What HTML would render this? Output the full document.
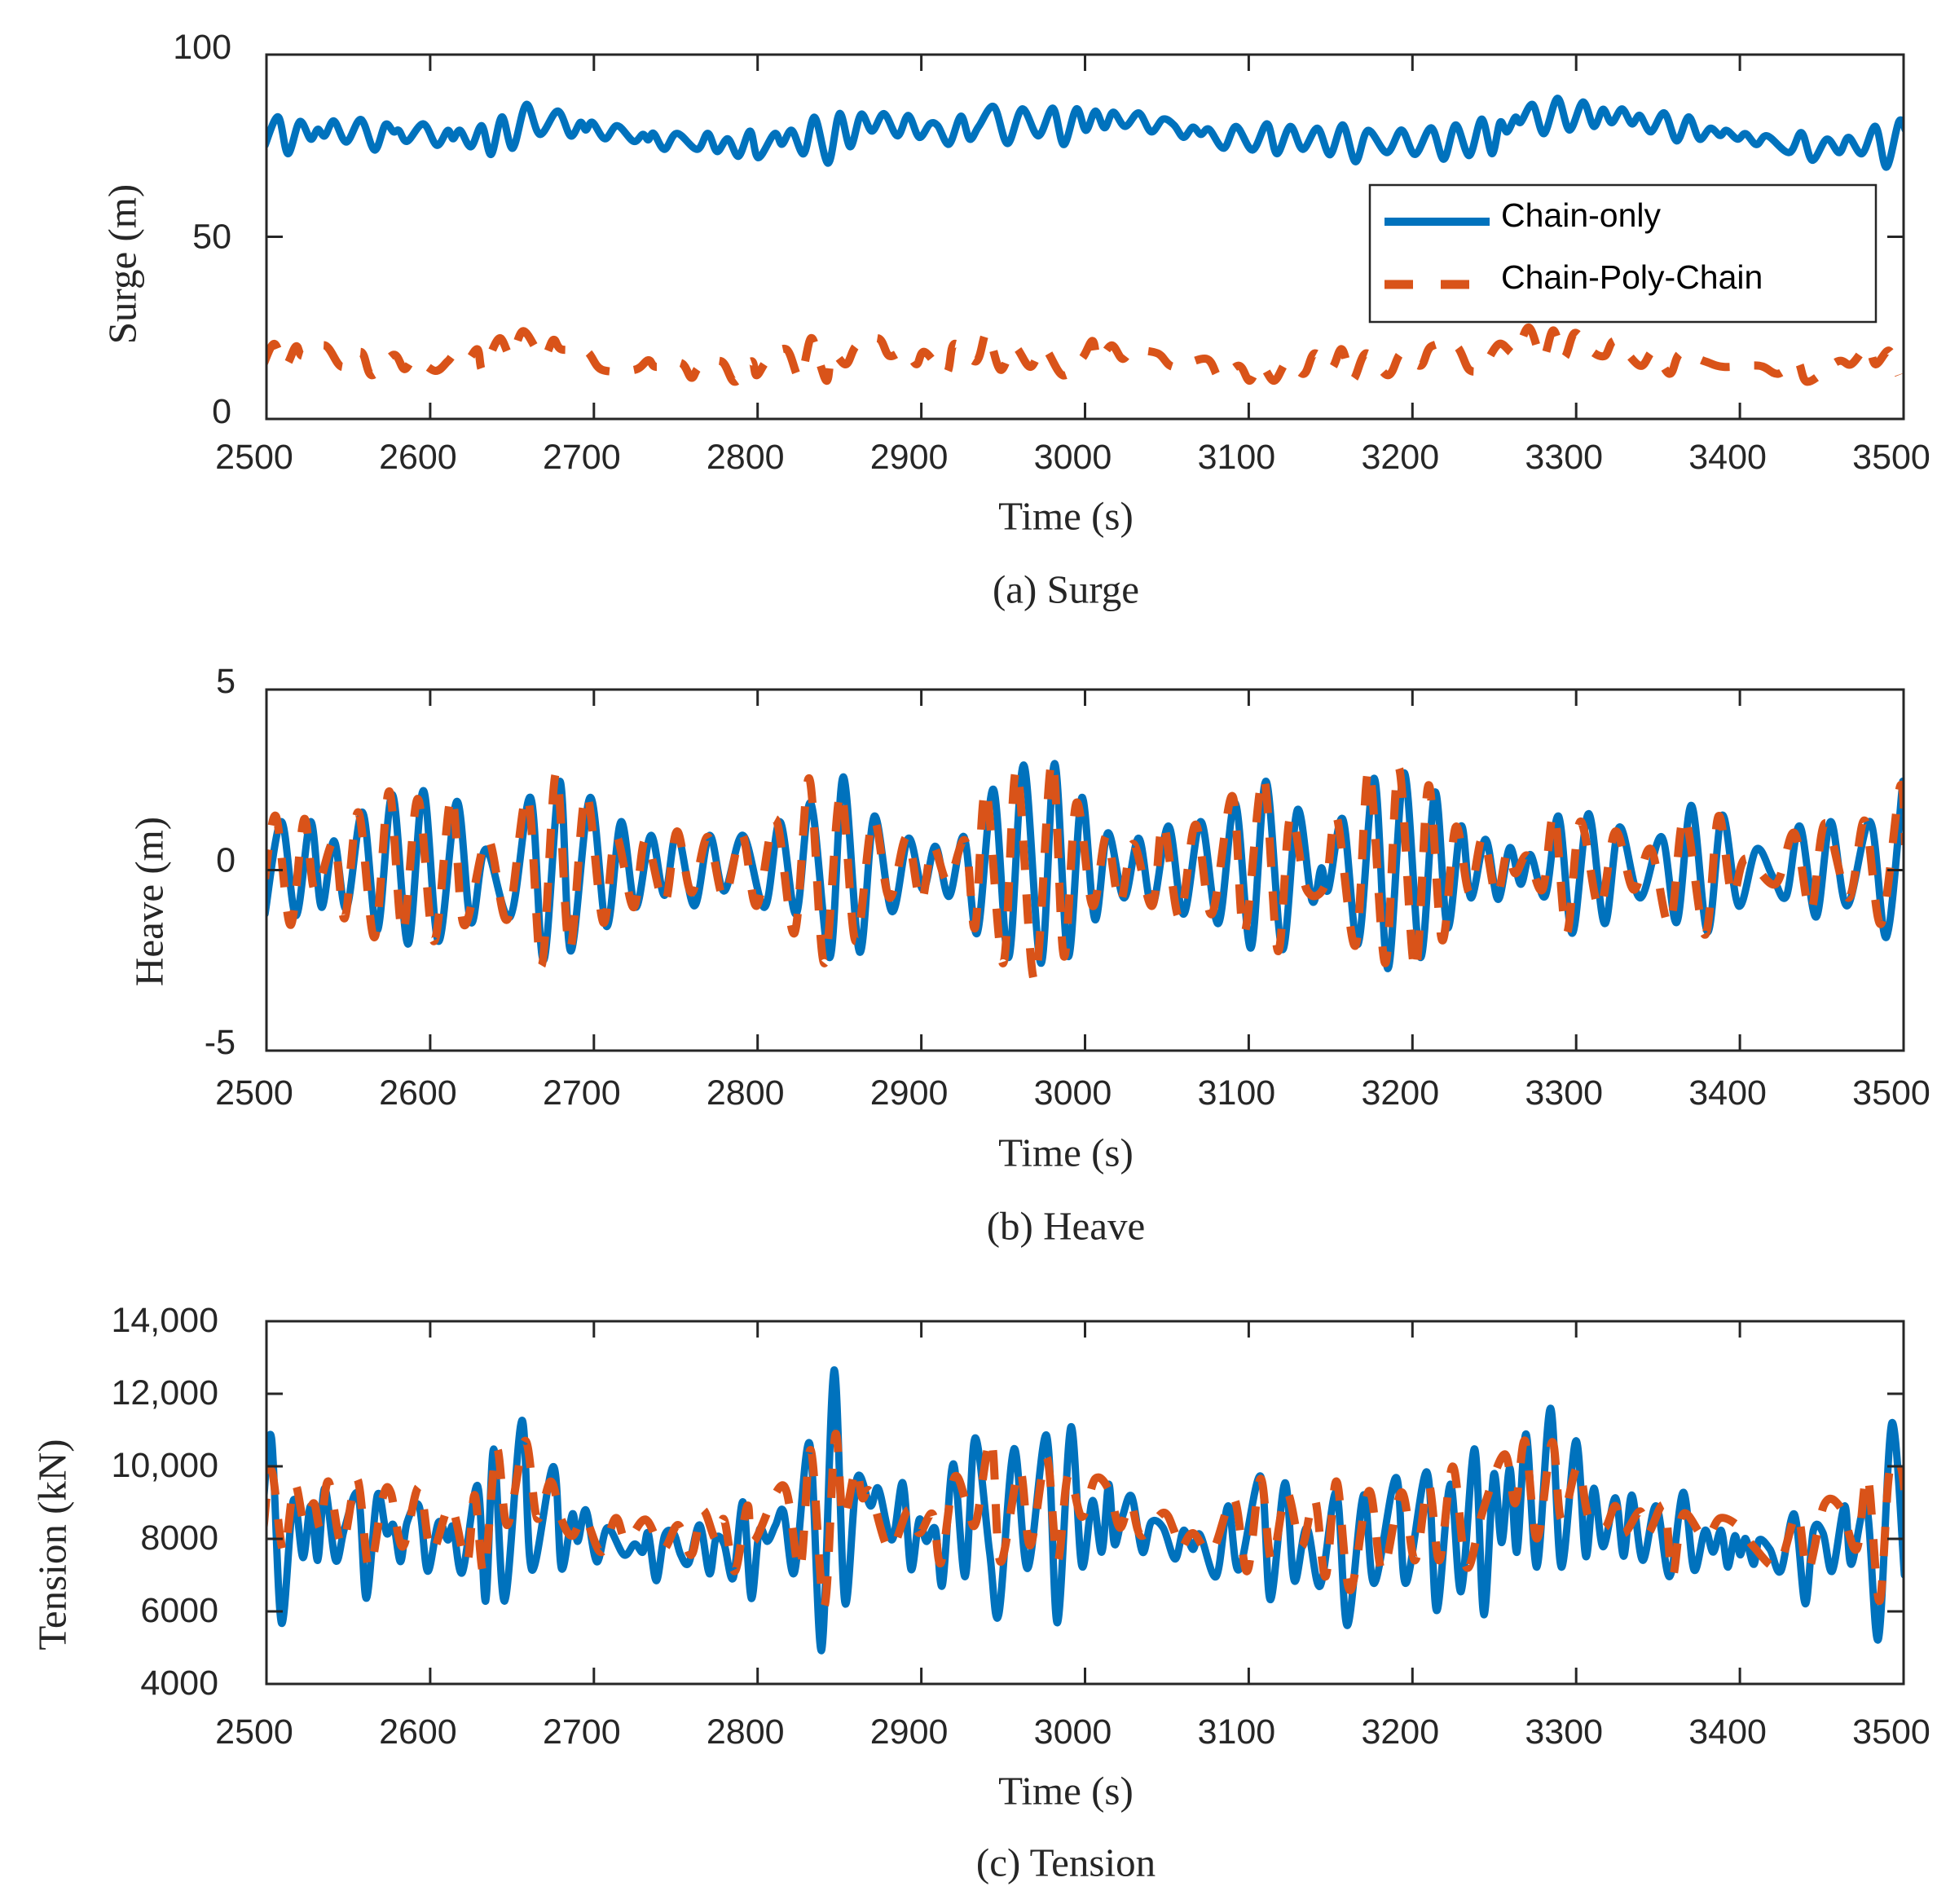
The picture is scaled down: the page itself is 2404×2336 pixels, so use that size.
<!DOCTYPE html>
<html><head><meta charset="utf-8"><title>Chain-only vs Chain-Poly-Chain</title>
<style>
html,body{margin:0;padding:0;background:#fff;}
svg{display:block;}
.tick{font-family:"Liberation Sans",Arial,sans-serif;font-size:43px;fill:#262626;}
.ser{font-family:"Liberation Serif","Times New Roman",serif;font-size:49px;fill:#262626;}
.leg{font-family:"Liberation Sans",Arial,sans-serif;font-size:41px;fill:#000;}
</style></head>
<body>
<svg id="fig" width="2404" height="2336" viewBox="0 0 2404 2336" xmlns="http://www.w3.org/2000/svg"></svg>
<script>
// ---------- DATA (times in s, values in physical units) ----------
const xTickLabels = [2500,2600,2700,2800,2900,3000,3100,3200,3300,3400,3500];
const surgeTickLabels = [0,50,100];
const heaveTickLabels = [-5,0,5];
const tensionTickLabels = [4000,6000,8000,10000,12000,14000];
const tensionTickText = ["4000","6000","8000","10,000","12,000","14,000"];

const surgeChainT = [2499.1,2507.1,2513.1,2520.3,2527.0,2531.3,2535.6,2541.2,2548.8,2557.7,2566.0,2572.6,2577.6,2580.9,2585.9,2595.8,2604.1,2610.7,2614.0,2618.3,2624.9,2631.5,2637.2,2643.8,2650.4,2658.7,2667.0,2677.9,2685.8,2691.8,2695.1,2699.1,2706.7,2714.3,2724.2,2729.9,2733.2,2736.5,2743.1,2750.7,2763.0,2769.6,2775.2,2781.8,2788.4,2795.4,2800.4,2810.3,2814.9,2820.9,2828.2,2834.8,2843.1,2850.0,2856.6,2863.2,2869.9,2877.2,2885.4,2892.0,2898.7,2905.3,2910.0,2916.9,2924.2,2929.5,2935.1,2944.3,2952.6,2961.6,2971.5,2980.4,2987.0,2994.7,3000.5,3006.3,3011.9,3017.2,3024.5,3032.8,3040.4,3047.7,3054.3,3060.2,3065.9,3070.8,3075.8,3084.7,3092.3,3102.3,3111.2,3117.2,3125.4,3133.0,3142.0,3149.6,3157.5,3165.2,3172.8,3184.4,3193.3,3201.6,3211.5,3219.1,3226.4,3234.7,3242.3,3248.6,3253.5,3257.8,3262.8,3266.1,3273.4,3280.3,3288.6,3295.9,3304.2,3310.8,3316.4,3321.7,3328.0,3334.0,3338.9,3345.6,3353.8,3361.4,3368.7,3375.3,3382.0,3387.9,3391.9,3398.5,3403.5,3410.1,3416.7,3430.0,3437.6,3444.2,3453.1,3460.7,3466.4,3474.6,3482.9,3489.5,3497.1,3501.1];
const surgeChainV = [75.1,82.9,72.8,81.6,76.8,79.5,77.7,81.8,76.0,82.2,73.8,80.8,78.8,79.2,76.2,81.0,75.1,79.2,76.9,79.2,74.7,80.5,72.6,82.9,74.3,86.3,78.1,84.5,77.7,81.4,79.3,81.4,76.9,80.5,76.2,78.1,76.6,78.4,74.0,78.4,74.0,78.4,73.4,76.9,72.1,79.0,71.7,78.3,75.4,79.2,72.8,82.8,70.2,83.8,74.7,83.6,79.0,83.8,77.7,83.3,77.3,81.0,80.5,75.4,83.1,76.8,80.3,85.7,75.6,85.1,77.7,85.3,75.3,85.1,79.2,84.5,79.9,84.2,80.3,84.0,78.8,82.3,80.7,77.3,80.1,78.1,79.5,74.3,80.3,73.8,81.0,72.8,80.3,74.0,79.8,72.5,80.7,70.6,79.2,73.1,79.3,72.6,79.9,71.3,80.7,72.3,82.3,72.8,81.4,78.8,82.8,81.4,86.3,78.3,88.0,79.3,87.0,80.3,85.0,81.3,85.1,81.0,83.3,78.8,84.0,76.3,82.9,76.8,79.8,77.8,79.2,76.8,78.3,75.3,77.7,73.1,78.6,71.0,76.8,73.1,77.3,72.8,80.3,69.1,81.6,79.3];

const surgePolyT = [2498.2,2504.8,2511.4,2518.0,2522.3,2535.6,2546.2,2557.7,2564.4,2577.6,2584.2,2590.8,2603.1,2610.7,2615.0,2622.3,2628.9,2632.2,2642.1,2649.4,2657.0,2668.6,2675.2,2680.2,2695.1,2705.0,2724.9,2733.2,2738.1,2753.0,2759.6,2764.6,2777.9,2786.1,2796.1,2799.4,2806.0,2817.6,2825.8,2832.5,2837.4,2842.4,2845.7,2854.0,2860.6,2873.8,2880.5,2890.4,2897.0,2902.0,2915.2,2920.2,2933.4,2940.1,2948.3,2956.6,2966.5,2974.8,2986.4,2998.0,3004.6,3008.0,3016.2,3022.8,3029.4,3044.3,3054.3,3074.1,3082.4,3094.0,3100.6,3107.2,3115.5,3123.8,3133.7,3140.3,3150.3,3156.9,3163.5,3171.8,3185.0,3193.3,3204.9,3211.5,3226.4,3234.7,3243.0,3253.0,3262.8,3271.1,3279.4,3286.0,3292.6,3299.2,3309.1,3317.4,3324.0,3338.9,3347.2,3357.1,3363.8,3378.7,3390.2,3411.8,3423.3,3434.9,3441.5,3459.7,3468.0,3478.0,3482.9,3491.2,3497.0];
const surgePolyV = [15.0,20.6,14.6,19.9,17.3,20.2,14.3,18.4,12.0,17.6,13.7,16.5,13.2,15.8,17.6,16.0,19.1,13.5,22.1,17.2,24.1,16.9,21.7,19.1,18.7,13.5,13.5,16.1,14.3,15.4,11.3,14.3,15.8,10.2,15.8,12.0,16.1,19.1,11.3,22.1,16.1,10.5,18.0,15.0,20.2,22.1,17.3,18.8,15.0,18.4,12.6,20.6,15.8,23.6,13.5,19.9,14.3,19.5,12.0,16.5,21.4,16.1,20.2,16.5,18.7,18.0,14.3,16.5,11.3,14.6,10.5,15.0,10.5,15.8,12.4,18.0,13.9,19.1,10.9,18.0,12.0,18.0,14.6,19.9,20.2,13.5,14.3,20.6,18.0,25.1,16.5,24.3,16.9,23.6,18.7,17.3,21.4,14.6,18.4,12.4,18.0,15.8,14.3,14.6,12.4,15.8,10.2,15.8,15.0,19.9,15.0,18.7,12.0];

const heaveChainT = [2499.1,2509.1,2518.0,2527.0,2533.6,2541.2,2548.8,2558.7,2567.7,2576.9,2586.5,2595.8,2605.1,2616.3,2624.9,2633.9,2648.8,2661.3,2669.3,2679.2,2685.8,2697.7,2707.7,2716.6,2725.5,2734.8,2743.1,2750.7,2761.3,2770.6,2779.5,2791.1,2804.3,2813.6,2823.5,2832.5,2844.1,2852.3,2862.3,2871.2,2882.1,2892.1,2901.0,2908.6,2916.9,2926.1,2934.1,2944.0,2953.3,2962.5,2973.1,2981.4,2989.7,2998.0,3006.0,3013.9,3023.8,3032.8,3041.0,3051.0,3060.2,3070.8,3081.4,3091.7,3101.3,3110.5,3120.5,3129.7,3138.7,3144.3,3148.6,3157.5,3166.8,3176.7,3185.0,3194.9,3204.9,3213.8,3221.4,3229.7,3235.7,3244.6,3252.2,3259.5,3266.1,3272.1,3281.0,3289.3,3297.6,3307.5,3317.4,3326.4,3338.9,3352.2,3361.4,3370.4,3380.3,3389.2,3399.2,3410.1,3420.0,3428.3,3436.6,3446.5,3455.4,3465.4,3479.6,3489.5,3499.5];
const heaveChainV = [-1.22,1.34,-1.26,1.34,-1.03,0.81,-1.07,1.60,-1.67,2.09,-2.05,2.20,-1.97,1.90,-1.45,0.58,-1.30,2.01,-2.50,2.46,-2.24,2.01,-1.56,1.34,-1.03,0.96,-0.70,1.03,-0.99,0.96,-0.58,0.96,-1.03,1.34,-1.22,1.86,-2.42,2.58,-2.27,1.49,-1.15,0.88,-0.54,0.66,-0.73,0.92,-1.75,2.24,-2.42,2.91,-2.58,2.95,-2.39,2.01,-1.37,1.03,-0.77,0.88,-0.99,1.22,-1.22,1.34,-1.48,1.86,-2.16,2.46,-2.20,1.67,-0.85,0.06,-0.55,1.41,-2.05,2.54,-2.73,2.69,-2.42,2.16,-1.60,1.22,-0.77,0.85,-0.81,0.62,-0.39,0.43,-0.73,1.49,-1.75,1.56,-1.48,1.19,-0.77,0.92,-1.45,1.79,-1.71,1.52,-0.99,0.58,-0.17,-0.73,1.22,-1.30,1.34,-0.99,1.34,-1.86,2.46];

const heavePolyT = [2499.1,2505.8,2514.7,2523.0,2529.6,2541.2,2547.8,2556.1,2566.0,2574.9,2583.2,2592.5,2602.4,2613.0,2620.6,2634.9,2647.1,2659.4,2668.0,2676.9,2685.2,2695.1,2705.7,2713.3,2724.2,2731.5,2743.1,2750.7,2759.6,2769.6,2779.5,2790.4,2799.4,2811.0,2822.5,2831.5,2840.7,2850.7,2859.9,2870.5,2880.5,2891.1,2899.7,2906.9,2916.2,2926.8,2932.8,2939.4,2950.0,2958.2,2969.2,2979.8,2987.1,2994.7,3004.6,3013.0,3021.2,3029.4,3041.0,3047.7,3057.6,3067.5,3077.4,3090.0,3097.3,3108.9,3117.8,3125.4,3135.4,3146.9,3153.6,3165.2,3173.4,3183.4,3191.6,3201.6,3209.8,3218.1,3226.4,3234.7,3243.0,3251.2,3257.8,3262.8,3270.1,3279.4,3286.6,3294.2,3302.5,3314.1,3324.0,3335.0,3345.6,3357.1,3366.1,3378.7,3386.9,3395.2,3403.5,3421.7,3433.3,3443.2,3452.1,3466.4,3476.3,3486.2,3497.8,3501.0];
const heavePolyV = [-0.24,1.49,-1.52,1.41,-0.58,0.77,-1.33,1.60,-1.86,2.18,-1.75,1.97,-1.97,2.05,-1.52,0.88,-1.37,2.05,-2.65,2.69,-2.20,2.12,-1.45,0.96,-1.03,0.85,-0.92,1.07,-0.62,0.92,-0.77,0.99,-0.99,1.41,-1.75,2.54,-2.58,2.16,-1.97,1.41,-0.77,0.92,-0.88,0.66,-0.32,0.81,-1.60,2.24,-2.58,2.80,-3.06,3.03,-2.39,1.86,-0.99,0.95,-0.92,0.73,-0.99,1.30,-1.33,1.26,-1.22,2.05,-1.75,2.58,-2.24,1.49,-0.54,-0.39,1.49,-2.09,2.80,-2.58,2.84,-2.80,2.35,-1.94,1.19,-0.62,0.92,-0.73,0.51,-0.09,0.40,-0.54,1.56,-1.75,1.34,-1.07,1.07,-0.54,0.58,-1.52,1.49,-1.79,1.49,-0.70,0.32,-0.39,1.03,-1.15,1.30,-0.77,1.37,-1.49,2.31,0.70];

const tensionChainT = [2498.2,2503.1,2509.1,2516.4,2522.3,2527.0,2531.3,2535.6,2542.2,2547.8,2556.1,2561.0,2567.7,2573.3,2577.6,2581.9,2585.9,2593.2,2598.4,2605.1,2610.7,2614.0,2619.6,2628.9,2633.9,2638.8,2645.5,2656.0,2662.0,2675.2,2680.2,2686.8,2690.1,2695.1,2701.7,2708.3,2718.3,2724.9,2729.9,2733.2,2738.1,2743.1,2748.7,2753.0,2758.0,2764.6,2770.6,2774.5,2779.5,2785.1,2791.1,2796.1,2801.0,2806.0,2811.0,2815.9,2822.5,2831.8,2839.1,2846.7,2853.3,2860.6,2868.9,2873.8,2882.1,2888.7,2893.7,2898.7,2903.0,2908.6,2912.9,2919.5,2926.8,2932.8,2941.7,2947.3,2956.6,2964.9,2976.5,2983.1,2991.3,2998.0,3004.6,3010.2,3014.5,3017.9,3022.8,3028.5,3035.1,3040.4,3047.7,3055.0,3060.2,3065.9,3070.2,3080.1,3087.4,3094.0,3107.2,3113.2,3122.1,3127.8,3135.4,3143.6,3153.6,3160.2,3170.1,3176.7,3190.0,3195.9,3208.8,3214.8,3223.1,3229.7,3238.0,3243.6,3249.6,3254.5,3259.5,3263.8,3269.4,3276.0,3284.3,3290.9,3299.9,3305.8,3310.8,3316.4,3324.0,3329.0,3334.0,3340.6,3348.9,3357.1,3365.4,3372.0,3378.7,3383.6,3388.6,3392.6,3396.9,3400.2,3403.5,3408.4,3411.8,3418.4,3425.0,3433.3,3439.9,3444.9,3450.8,3456.4,3464.0,3468.0,3477.3,3484.6,3492.8,3500.5];
const tensionChainV = [9057,10779,5686,9057,7484,8907,7409,9393,7409,8308,9206,6361,9206,8158,8383,7372,8458,8907,7109,8458,7971,8330,7072,9468,6286,10479,6286,11266,7146,9992,7184,8682,7933,8795,7371,8308,7559,7859,7634,8158,6848,8083,8158,7559,7334,8383,7035,8008,7859,6922,9018,6361,8233,7933,8383,8757,7072,10629,4933,12652,6249,9655,8907,9386,7971,9543,7162,8533,7933,8270,6727,10067,6959,10779,7634,5911,10479,7184,10854,5686,11079,7259,9056,7634,9506,7858,8607,9169,7634,8458,8308,7446,8233,7709,8120,6959,8907,7147,9731,6323,9543,6847,8308,6697,9281,5611,9206,6772,9693,6772,9843,6023,9506,6547,10479,5911,9768,7896,9956,7634,10891,7222,11603,7222,10704,7521,9394,7784,9131,7521,9206,7409,8907,6959,9281,7147,8233,7634,8233,7222,8083,7559,8008,7296,7971,7709,7109,8682,6211,8233,8158,7109,8907,7296,8907,5237,11191,7003];

const tensionPolyT = [2498.2,2503.1,2510.4,2517.0,2523.0,2528.9,2532.9,2537.9,2546.2,2555.4,2562.7,2571.0,2575.9,2583.2,2593.2,2600.8,2612.4,2622.3,2627.2,2632.9,2640.5,2647.1,2658.0,2665.3,2673.6,2680.2,2686.8,2694.4,2704.4,2713.3,2719.9,2731.5,2742.1,2751.4,2759.6,2766.3,2774.5,2779.5,2786.1,2793.7,2797.7,2815.9,2825.8,2832.5,2840.7,2847.4,2852.3,2859.9,2863.9,2868.9,2880.5,2892.0,2898.7,2906.9,2911.9,2920.2,2928.5,2933.4,2942.7,2948.3,2959.9,2966.5,2976.5,2983.1,2989.7,2998.0,3006.2,3014.5,3021.2,3027.8,3034.4,3047.7,3054.3,3058.2,3065.9,3077.4,3090.7,3099.0,3107.2,3113.9,3123.1,3132.1,3140.3,3146.9,3153.6,3161.8,3173.4,3181.7,3193.3,3201.6,3209.8,3216.5,3224.7,3233.0,3242.9,3256.2,3262.8,3268.8,3276.0,3285.3,3290.9,3300.9,3307.5,3317.4,3324.0,3329.0,3339.0,3344.0,3353.8,3358.8,3365.4,3378.7,3388.0,3400.2,3408.4,3423.3,3434.9,3441.5,3451.5,3461.4,3471.3,3478.0,3485.2,3491.2,3497.8,3500.5];
const tensionPolyV = [8308,9880,7634,9506,8458,8982,8308,9581,7821,9655,7184,9131,9281,7784,9431,7634,8907,7334,9206,7072,10479,8383,10704,8570,9581,8533,8083,8570,7634,8570,7934,8533,7709,8383,7559,8795,7971,8533,7109,8907,7934,9468,7147,10442,6136,10854,8570,9925,9131,9281,7709,8794,8158,8682,7334,9693,8832,8457,10742,7371,9918,7821,10254,7371,9768,8607,9656,9356,8308,8982,8083,8720,8233,7708,8158,7634,9131,7109,9656,7409,9281,7784,9094,6959,9581,6584,9318,7109,9281,7409,9506,7409,9993,7222,8757,10330,8982,10704,8008,10667,8532,9993,8607,8308,8907,8158,8757,8158,8907,6959,8682,8008,8570,8308,7784,7259,8682,7109,8944,8869,7709,9731,6286,9806,10030,9356];

// ---------- RENDERING ----------
const NS = "http://www.w3.org/2000/svg";
const svg = document.getElementById("fig");
const BLUE = "#0072BD", ORANGE = "#D95319", AX = "#262626";
const X0 = 327, X1 = 2336;
function xScale(t){ return X0 + (t - 2500) / 1000 * (X1 - X0); }

function mk(tag, attrs, parent){
  const e = document.createElementNS(NS, tag);
  for (const k in attrs) e.setAttribute(k, attrs[k]);
  (parent || svg).appendChild(e);
  return e;
}
function smoothPath(pts){
  let d = "M" + pts[0][0].toFixed(1) + "," + pts[0][1].toFixed(1);
  for (let i = 0; i < pts.length - 1; i++){
    const p0 = pts[i-1] || pts[i], p1 = pts[i], p2 = pts[i+1], p3 = pts[i+2] || p2;
    const c1x = p1[0] + (p2[0]-p0[0])/6, c1y = p1[1] + (p2[1]-p0[1])/6;
    const c2x = p2[0] - (p3[0]-p1[0])/6, c2y = p2[1] - (p3[1]-p1[1])/6;
    d += " C" + c1x.toFixed(1)+","+c1y.toFixed(1)+" "+c2x.toFixed(1)+","+c2y.toFixed(1)+" "+p2[0].toFixed(1)+","+p2[1].toFixed(1);
  }
  return d;
}

function panel(cfg){
  const g = mk("g", {});
  
  
  const yScale = v => cfg.bottom - (v - cfg.ymin) / (cfg.ymax - cfg.ymin) * (cfg.bottom - cfg.top);
  const cid = "clip-" + cfg.name;
  const cp = mk("clipPath", {id: cid}, g);
  mk("rect", {x: X0, y: cfg.top, width: X1 - X0, height: cfg.bottom - cfg.top}, cp);
  const lines = mk("g", {"clip-path": "url(#" + cid + ")"}, g);
  const p1 = cfg.chainT.map((t,i) => [xScale(t), yScale(cfg.chainV[i])]);
  const l1 = mk("path", {d: smoothPath(p1), fill: "none", stroke: BLUE, "stroke-width": 9, "stroke-linejoin": "round", "stroke-linecap": "round"}, lines);
  
  
  const p2 = cfg.polyT.map((t,i) => [xScale(t), yScale(cfg.polyV[i])]);
  const l2 = mk("path", {d: smoothPath(p2), fill: "none", stroke: ORANGE, "stroke-width": 10, "stroke-dasharray": "36 30"}, lines);
  
  
  const box = mk("rect", {x: X0, y: cfg.top, width: X1 - X0, height: cfg.bottom - cfg.top, fill: "none", stroke: AX, "stroke-width": 3}, g);
  
  
  xTickLabels.forEach(v => {
    const x = xScale(v);
    mk("line", {x1: x, x2: x, y1: cfg.bottom, y2: cfg.bottom - 20, stroke: AX, "stroke-width": 3}, g);
    mk("line", {x1: x, x2: x, y1: cfg.top, y2: cfg.top + 20, stroke: AX, "stroke-width": 3}, g);
    const t = mk("text", {x: x - 15, y: cfg.xLabelY, "text-anchor": "middle", "dominant-baseline": "central", class: "tick"}, g);
    t.textContent = v;
    
    
  });
  cfg.yTicks.forEach((v, i) => {
    const y = yScale(v);
    mk("line", {x1: X0, x2: X0 + 20, y1: y, y2: y, stroke: AX, "stroke-width": 3}, g);
    mk("line", {x1: X1, x2: X1 - 20, y1: y, y2: y, stroke: AX, "stroke-width": 3}, g);
    const t = mk("text", {x: cfg.yLabelRight, y: y + cfg.yLabelShift(v), "text-anchor": "end", "dominant-baseline": "central", class: "tick"}, g);
    t.textContent = cfg.yTickText ? cfg.yTickText[i] : v;
    
    
  });
  const yt = mk("text", {x: 0, y: 0, transform: "translate(" + cfg.yTitleX + "," + cfg.yTitleY + ") rotate(-90)", "text-anchor": "middle", "dominant-baseline": "central", class: "ser"}, g);
  yt.textContent = cfg.yTitle;
  
  
  const xt = mk("text", {x: 1308, y: cfg.xTitleY, "text-anchor": "middle", "dominant-baseline": "central", class: "ser"}, g);
  xt.textContent = "Time (s)";
  
  
  const cap = mk("text", {x: 1308, y: cfg.capY, "text-anchor": "middle", "dominant-baseline": "central", class: "ser"}, g);
  cap.textContent = cfg.caption;
  
  
}

panel({name: "surge", top: 67, bottom: 514, ymin: 0, ymax: 100, yTicks: surgeTickLabels,
  chainT: surgeChainT, chainV: surgeChainV, polyT: surgePolyT, polyV: surgePolyV,
  xLabelY: 561, xTitleY: 633, capY: 723, yLabelRight: 284, yLabelShift: v => v===100 ? -9 : (v===0 ? -9 : 0),
  yTitle: "Surge (m)", yTitleX: 150, yTitleY: 324, caption: "(a) Surge"});
panel({name: "heave", top: 846, bottom: 1289, ymin: -5, ymax: 5, yTicks: heaveTickLabels,
  chainT: heaveChainT, chainV: heaveChainV, polyT: heavePolyT, polyV: heavePolyV,
  xLabelY: 1341, xTitleY: 1414, capY: 1504, yLabelRight: 289, yLabelShift: v => v===0 ? -12 : -10,
  yTitle: "Heave (m)", yTitleX: 183, yTitleY: 1106, caption: "(b) Heave"});
panel({name: "tension", top: 1621, bottom: 2066, ymin: 4000, ymax: 14000, yTicks: tensionTickLabels, yTickText: tensionTickText,
  chainT: tensionChainT, chainV: tensionChainV, polyT: tensionPolyT, polyV: tensionPolyV,
  xLabelY: 2125, xTitleY: 2197, capY: 2285, yLabelRight: 268, yLabelShift: v => -1,
  yTitle: "Tension (kN)", yTitleX: 64, yTitleY: 1895, caption: "(c) Tension"});

// legend
const lg = mk("g", {});


mk("rect", {x: 1681, y: 227, width: 621, height: 168, fill: "#fff", stroke: AX, "stroke-width": 2.5}, lg);
const le1 = mk("line", {x1: 1699, x2: 1828, y1: 272, y2: 272, stroke: BLUE, "stroke-width": 10}, lg);


const lt1 = mk("text", {x: 1842, y: 264, "dominant-baseline": "central", class: "leg"}, lg);
lt1.textContent = "Chain-only";


const le2 = mk("line", {x1: 1699, x2: 1808, y1: 349, y2: 349, stroke: ORANGE, "stroke-width": 11, "stroke-dasharray": "35 34"}, lg);


const lt2 = mk("text", {x: 1842, y: 340, "dominant-baseline": "central", class: "leg"}, lg);
lt2.textContent = "Chain-Poly-Chain";


</script>
</body></html>
